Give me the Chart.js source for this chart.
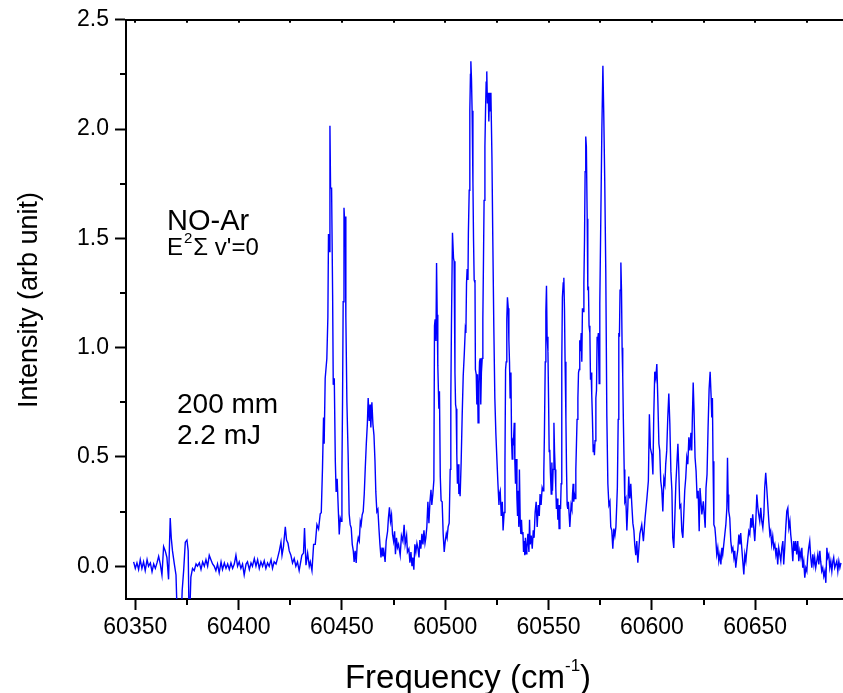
<!DOCTYPE html>
<html>
<head>
<meta charset="utf-8">
<script src="https://cdn.jsdelivr.net/npm/chart.js@4.4.1/dist/chart.umd.min.js"></script>
<style>
  html, body { margin: 0; padding: 0; background: #fff; }
  canvas { display: block; }
</style>
</head>
<body>
<canvas id="spectrum" width="843" height="693"></canvas>
<script>
// NO-Ar spectrum (cm-1, arb. unit)
const frequency = [
  60349.2, 60350.0, 60350.8, 60351.6, 60352.4, 60353.2, 60354.0, 60354.8, 60355.7, 60356.4,
  60357.3, 60358.1, 60358.9, 60359.7, 60360.5, 60361.3, 60362.1, 60362.9, 60363.7, 60364.5,
  60365.3, 60366.1, 60366.9, 60367.4, 60368.0, 60368.9, 60369.7, 60370.5, 60371.8, 60372.7,
  60373.4, 60374.2, 60375.0, 60375.6, 60376.1, 60376.9, 60377.7, 60378.5, 60379.4, 60380.1,
  60381.0, 60381.8, 60382.6, 60383.4, 60384.2, 60385.0, 60385.8, 60386.6, 60387.4, 60388.2,
  60389.0, 60389.8, 60390.6, 60391.5, 60392.2, 60393.1, 60393.9, 60394.7, 60395.5, 60396.3,
  60397.1, 60397.9, 60398.7, 60399.5, 60400.3, 60401.1, 60401.9, 60402.7, 60403.6, 60404.3,
  60405.2, 60406.0, 60406.7, 60407.6, 60408.4, 60409.2, 60410.0, 60410.8, 60411.6, 60412.4,
  60413.2, 60414.0, 60414.8, 60415.7, 60416.4, 60417.2, 60418.1, 60418.8, 60419.7, 60420.5,
  60421.0, 60421.7, 60422.6, 60423.2, 60423.9, 60424.5, 60425.3, 60426.1, 60426.9, 60427.7,
  60428.5, 60429.3, 60430.6, 60431.4, 60431.9, 60432.6, 60433.4, 60434.2, 60434.7, 60435.5,
  60436.3, 60437.1, 60437.9, 60438.7, 60439.5, 60440.0, 60440.6, 60441.1, 60441.4, 60441.9,
  60442.7, 60443.2, 60443.5, 60443.9, 60444.2, 60444.5, 60445.0, 60445.5, 60445.8, 60446.3,
  60446.8, 60447.2, 60447.7, 60448.2, 60448.7, 60449.2, 60449.7, 60450.0, 60450.3, 60450.6,
  60451.0, 60451.3, 60451.6, 60451.9, 60452.4, 60453.0, 60453.5, 60454.0, 60454.5, 60455.0,
  60455.5, 60455.9, 60456.4, 60456.9, 60457.4, 60457.9, 60458.4, 60458.9, 60459.3, 60459.8,
  60460.3, 60460.8, 60461.3, 60461.8, 60462.3, 60462.7, 60463.2, 60463.6, 60464.0, 60464.5,
  60465.0, 60465.5, 60466.0, 60466.4, 60466.9, 60467.4, 60467.9, 60468.4, 60468.9, 60469.4,
  60469.8, 60470.3, 60470.9, 60471.4, 60472.1, 60472.5, 60473.0, 60473.5, 60474.0, 60474.5,
  60475.0, 60475.5, 60475.9, 60476.4, 60476.9, 60477.4, 60478.2, 60478.8, 60479.5, 60480.1,
  60480.6, 60481.3, 60481.7, 60482.4, 60482.9, 60483.4, 60483.9, 60484.3, 60484.8, 60485.3,
  60485.8, 60486.3, 60486.8, 60487.3, 60487.7, 60488.2, 60488.7, 60489.2, 60489.7, 60490.2,
  60490.6, 60491.1, 60491.6, 60492.1, 60492.6, 60493.1, 60493.5, 60494.0, 60494.5, 60494.8,
  60495.1, 60495.5, 60495.8, 60496.1, 60496.4, 60496.9, 60497.2, 60497.6, 60498.0, 60498.5,
  60499.0, 60499.5, 60500.0, 60500.5, 60500.9, 60501.4, 60501.9, 60502.4, 60502.7, 60503.0,
  60503.5, 60504.0, 60504.3, 60504.7, 60505.0, 60505.3, 60505.6, 60505.9, 60506.3, 60506.6,
  60506.9, 60507.2, 60507.7, 60508.2, 60508.7, 60509.2, 60509.7, 60510.0, 60510.3, 60510.6,
  60511.0, 60511.2, 60511.6, 60511.9, 60512.2, 60512.4, 60512.7, 60513.0, 60513.4, 60513.7,
  60514.0, 60514.4, 60514.6, 60515.0, 60515.3, 60515.6, 60515.9, 60516.3, 60516.6, 60516.9,
  60517.2, 60517.5, 60517.9, 60518.2, 60518.5, 60518.8, 60519.2, 60519.5, 60519.8, 60520.1,
  60520.4, 60520.8, 60521.1, 60521.4, 60521.7, 60522.1, 60522.6, 60523.0, 60523.5, 60524.0,
  60524.5, 60525.0, 60525.5, 60526.0, 60526.2, 60526.6, 60527.1, 60527.6, 60528.0, 60528.5,
  60528.9, 60529.2, 60529.5, 60529.8, 60530.1, 60530.5, 60530.8, 60531.1, 60531.4, 60531.8,
  60532.1, 60532.4, 60532.7, 60533.0, 60533.4, 60533.7, 60534.0, 60534.3, 60534.7, 60535.0,
  60535.3, 60535.6, 60535.9, 60536.3, 60536.6, 60536.9, 60537.2, 60537.6, 60537.9, 60538.2,
  60538.5, 60538.8, 60539.2, 60539.5, 60540.0, 60540.5, 60540.8, 60541.1, 60541.6, 60542.1,
  60542.6, 60543.0, 60543.5, 60544.0, 60544.5, 60545.0, 60545.5, 60545.9, 60546.4, 60546.9,
  60547.4, 60547.7, 60548.0, 60548.4, 60548.7, 60549.0, 60549.3, 60549.7, 60550.0, 60550.3,
  60550.6, 60550.9, 60551.3, 60551.6, 60551.9, 60552.2, 60552.6, 60552.9, 60553.2, 60553.5,
  60553.8, 60554.2, 60554.5, 60554.8, 60555.1, 60555.5, 60555.8, 60556.1, 60556.4, 60556.7,
  60557.1, 60557.4, 60557.7, 60558.0, 60558.4, 60558.7, 60559.0, 60559.3, 60559.6, 60560.0,
  60560.3, 60560.6, 60560.9, 60561.3, 60561.6, 60561.9, 60562.2, 60562.5, 60562.9, 60563.2,
  60563.5, 60563.8, 60564.2, 60564.5, 60564.8, 60565.1, 60565.4, 60565.8, 60566.1, 60566.4,
  60566.7, 60567.1, 60567.4, 60567.7, 60568.0, 60568.3, 60568.7, 60569.0, 60569.3, 60569.6,
  60570.0, 60570.3, 60570.6, 60570.9, 60571.2, 60571.6, 60571.9, 60572.2, 60572.5, 60572.9,
  60573.2, 60573.5, 60573.8, 60574.1, 60574.5, 60574.8, 60575.8, 60576.3, 60576.7, 60577.2,
  60577.7, 60578.2, 60578.7, 60579.2, 60579.7, 60580.1, 60580.6, 60581.1, 60581.6, 60582.1,
  60582.6, 60583.0, 60583.3, 60583.7, 60584.0, 60584.3, 60584.6, 60585.0, 60585.3, 60585.6,
  60585.9, 60586.2, 60586.6, 60586.9, 60587.4, 60587.9, 60588.4, 60588.8, 60589.3, 60589.8,
  60590.3, 60590.8, 60591.3, 60591.7, 60592.2, 60592.7, 60593.2, 60593.7, 60594.2, 60595.1,
  60595.9, 60596.7, 60597.6, 60598.3, 60598.8, 60599.3, 60600.0, 60600.5, 60600.9, 60601.4,
  60601.9, 60602.4, 60602.9, 60603.4, 60603.8, 60604.3, 60604.8, 60605.3, 60605.8, 60606.3,
  60606.7, 60607.2, 60607.7, 60608.2, 60608.7, 60609.2, 60609.7, 60610.1, 60610.6, 60611.1,
  60611.6, 60612.1, 60612.6, 60613.0, 60613.5, 60614.0, 60614.5, 60615.0, 60615.5, 60615.9,
  60616.4, 60616.9, 60617.4, 60617.9, 60618.4, 60618.9, 60619.3, 60619.6, 60620.0, 60620.4,
  60620.9, 60621.4, 60621.9, 60622.4, 60622.9, 60623.3, 60624.2, 60624.9, 60625.8, 60626.2,
  60626.7, 60627.2, 60627.7, 60628.2, 60628.7, 60629.0, 60629.3, 60629.6, 60630.0, 60630.5,
  60630.9, 60631.4, 60631.9, 60632.4, 60632.9, 60633.4, 60633.9, 60634.3, 60634.8, 60635.3,
  60635.8, 60636.3, 60636.6, 60636.9, 60637.2, 60637.7, 60638.2, 60638.7, 60639.2, 60639.7,
  60640.1, 60640.6, 60641.1, 60641.6, 60642.1, 60642.6, 60643.0, 60643.5, 60644.0, 60644.5,
  60645.0, 60645.5, 60645.9, 60646.4, 60646.9, 60647.4, 60647.9, 60648.4, 60648.8, 60649.3,
  60649.8, 60650.3, 60650.8, 60651.3, 60651.7, 60652.2, 60652.7, 60653.2, 60653.7, 60654.2,
  60654.6, 60655.1, 60655.6, 60656.1, 60656.6, 60657.1, 60657.5, 60658.0, 60658.5, 60659.0,
  60659.5, 60660.0, 60660.4, 60660.9, 60661.4, 60661.9, 60662.4, 60662.9, 60663.4, 60663.8,
  60664.3, 60664.8, 60665.3, 60665.8, 60666.3, 60666.8, 60667.2, 60667.7, 60668.2, 60668.7,
  60669.2, 60669.6, 60670.1, 60670.6, 60671.1, 60671.6, 60672.1, 60672.6, 60673.0, 60673.5,
  60674.0, 60674.5, 60675.0, 60675.4, 60675.9, 60676.4, 60676.9, 60677.4, 60677.9, 60678.4,
  60678.8, 60679.3, 60679.8, 60680.3, 60680.8, 60681.3, 60681.7, 60682.2, 60682.7, 60683.2,
  60683.7, 60684.2, 60684.7, 60685.1, 60685.6, 60686.1, 60686.6, 60687.1, 60687.6, 60688.0,
  60688.5, 60689.0, 60689.5, 60690.0, 60690.5, 60691.0, 60691.5
];

const intensity = [
  0.02, -0.01, 0.015, -0.015, 0.03, -0.01, 0.02, -0.02, 0.03, 0,
  0.015, -0.025, 0.01, -0.01, 0.015, 0.045, 0.01, -0.04, 0.09, 0.07,
  0.04, -0.06, 0.22, 0.13, 0.07, 0.01, -0.04, -0.3, -0.35, -0.11,
  -0.02, 0.11, 0.12, 0.07, -0.3, -0.05, -0.01, -0.02, 0.01, 0,
  0.015, -0.015, 0.02, 0, 0.03, 0, 0.05, 0.03, 0.01, 0,
  -0.02, 0.01, -0.03, 0.02, -0.015, 0.015, -0.01, 0.01, -0.015, 0.015,
  -0.01, 0.01, 0.05, 0, 0.02, -0.01, 0.01, -0.04, 0.01, 0.02,
  -0.015, 0.015, 0, 0.035, 0, 0.03, -0.01, 0.02, 0, 0.025,
  -0.01, 0.015, 0, 0.03, -0.01, 0.02, 0.01, 0.035, 0.07, 0.11,
  0.05, 0.09, 0.18, 0.12, 0.105, 0.07, 0.05, 0.015, 0.035, 0,
  0.02, -0.02, 0.05, 0.06, 0.175, 0.005, 0.06, 0, 0.02, -0.02,
  0.10, 0.10, 0.19, 0.17, 0.24, 0.245, 0.45, 0.68, 0.56, 0.86,
  0.95, 1.14, 1.52, 1.44, 2.015, 1.73, 1.73, 1.24, 0.83, 0.86,
  0.48, 0.34, 0.40, 0.27, 0.145, 0.22, 0.205, 0.435, 0.755, 1.21,
  1.64, 1.58, 1.60, 1.14, 0.755, 0.51, 0.24, 0.19, 0.175, 0.10,
  0.07, 0.02, 0.07, 0.015, 0.10, 0.13, 0.115, 0.205, 0.19, 0.235,
  0.25, 0.33, 0.45, 0.56, 0.65, 0.77, 0.665, 0.74, 0.635, 0.75,
  0.65, 0.60, 0.48, 0.34, 0.25, 0.26, 0.175, 0.10, 0.04, 0.085,
  0.045, 0.07, 0.02, 0.115, 0.16, 0.22, 0.27, 0.205, 0.235, 0.145,
  0.115, 0.16, 0.055, 0.13, 0.085, 0.10, 0.05, 0.14, 0.115, 0.19,
  0.10, 0.14, 0.065, 0.08, 0.016, 0.065, 0, 0.04, -0.016, 0.10,
  0.065, 0.105, 0.08, 0.04, 0.12, 0.08, 0.148, 0.10, 0.164, 0.105,
  0.13, 0.18, 0.295, 0.197, 0.295, 0.35, 0.28, 0.33, 0.394, 1.10,
  1.13, 1.03, 1.387, 1.15, 0.92, 0.72, 0.80, 0.41, 0.30, 0.295,
  0.148, 0.065, 0.115, 0.148, 0.13, 0.18, 0.197, 0.443, 0.77, 1.10,
  1.526, 1.41, 1.395, 0.886, 0.74, 0.72, 0.51, 0.377, 0.467, 0.33,
  0.377, 0.32, 0.475, 0.69, 0.87, 0.968, 1.083, 1.067, 1.296, 1.36,
  1.31, 1.526, 1.72, 2.084, 2.25, 2.31, 2.23, 2.084, 1.756, 1.49,
  1.31, 1.296, 0.90, 0.878, 0.74, 0.878, 0.656, 0.836, 0.935, 0.951,
  0.74, 0.886, 0.951, 1.13, 1.395, 1.674, 1.92, 2.084, 2.215, 2.264,
  2.117, 2.166, 2.035, 2.166, 2.084, 2.166, 1.87, 1.51, 1.10, 0.77,
  0.607, 0.49, 0.377, 0.28, 0.33, 0.345, 0.23, 0.295, 0.164, 0.246,
  0.475, 0.90, 0.935, 1.13, 1.23, 1.18, 1.034, 0.935, 0.77, 0.886,
  0.574, 0.49, 0.574, 0.566, 0.656, 0.475, 0.377, 0.49, 0.31, 0.23,
  0.345, 0.18, 0.443, 0.197, 0.148, 0.213, 0.148, 0.156, 0.065, 0.115,
  0.05, 0.13, 0.057, 0.08, 0.148, 0.065, 0.213, 0.10, 0.14, 0.08,
  0.164, 0.13, 0.246, 0.295, 0.18, 0.28, 0.23, 0.33, 0.28, 0.36,
  0.345, 0.426, 0.607, 0.935, 1.165, 1.283, 1.05, 0.984, 0.77, 0.525,
  0.533, 0.426, 0.33, 0.475, 0.345, 0.443, 0.656, 0.525, 0.443, 0.36,
  0.262, 0.31, 0.213, 0.28, 0.172, 0.28, 0.262, 0.377, 0.935, 1.23,
  1.296, 1.32, 1.18, 0.935, 0.672, 0.443, 0.28, 0.262, 0.295, 0.23,
  0.18, 0.23, 0.28, 0.262, 0.33, 0.377, 0.295, 0.33, 0.31, 0.443,
  0.558, 0.672, 0.77, 0.886, 0.90, 1.034, 0.984, 1.067, 0.935, 1.18,
  1.165, 1.296, 1.493, 1.805, 1.966, 1.92, 1.59, 1.263, 1.28, 1.10,
  1.067, 0.853, 0.886, 0.787, 0.689, 0.525, 0.558, 0.508, 0.574, 0.77,
  0.804, 1.05, 1.034, 1.067, 0.836, 1.198, 2.0, 2.29, 2.08, 1.756,
  1.345, 0.689, 0.377, 0.28, 0.295, 0.18, 0.164, 0.08, 0.172, 0.14,
  0.18, 0.28, 0.36, 0.672, 1.067, 1.05, 1.263, 1.39, 1.263, 1.0,
  0.87, 0.672, 0.443, 0.295, 0.31, 0.164, 0.28, 0.41, 0.31, 0.377,
  0.28, 0.197, 0.164, 0.10, 0.05, 0.115, 0.016, 0.08, 0.148, 0.19,
  0.115, 0.22, 0.31, 0.39, 0.695, 0.54, 0.51, 0.42, 0.68, 0.89,
  0.86, 0.925, 0.757, 0.56, 0.53, 0.39, 0.35, 0.25, 0.40, 0.375,
  0.467, 0.53, 0.68, 0.79, 0.65, 0.435, 0.345, 0.13, 0.084, 0.22,
  0.375, 0.467, 0.56, 0.45, 0.27, 0.28, 0.16, 0.13, 0.25, 0.345,
  0.405, 0.497, 0.467, 0.59, 0.53, 0.61, 0.53, 0.68, 0.84, 0.71,
  0.497, 0.435, 0.31, 0.345, 0.16, 0.358, 0.237, 0.297, 0.176, 0.358,
  0.42, 0.633, 0.809, 0.89, 0.77, 0.68, 0.77, 0.48, 0.19, 0.176,
  0.13, 0.054, 0.084, 0.023, 0.054, 0.008, 0.084, 0.054, 0.1, 0.145,
  0.19, 0.267, 0.496, 0.328, 0.252, 0.22, 0.115, 0.07, 0.084, 0.04,
  0.07, -0.007, 0.04, 0.076, 0.145, 0.1, 0.152, 0.084, 0.023, -0.038,
  0.054, 0.023, 0.07, 0.115, 0.16, 0.145, 0.22, 0.176, 0.237, 0.176,
  0.115, 0.206, 0.328, 0.267, 0.237, 0.206, 0.267, 0.206, 0.176, 0.237,
  0.358, 0.427, 0.358, 0.282, 0.206, 0.145, 0.16, 0.1, 0.137, 0.084,
  0.1, 0.054, 0.084, 0.008, 0.084, 0.054, 0.023, 0.084, 0.115, 0.008,
  0.084, 0.176, 0.252, 0.267, 0.176, 0.206, 0.145, 0.1, 0.023, 0.115,
  0.07, 0.115, 0.054, 0.115, 0.023, 0.07, 0.04, 0.084, -0.007, 0.023,
  -0.053, -0.007, -0.023, 0.04, 0.084, 0.115, 0.04, -0.007, 0.054, 0.008,
  0.04, -0.007, 0.023, 0.054, 0.008, 0.07, 0.023, -0.023, -0.007, -0.046,
  -0.023, -0.076, 0.084, 0.04, 0.054, -0.007, 0.023, -0.023, 0.023, 0.04,
  -0.007, 0.008, 0.023, -0.023, 0.023, -0.007, 0.015
];

const xTickValues = [60350, 60375, 60400, 60425, 60450, 60475, 60500, 60525, 60550, 60575, 60600, 60625, 60650, 60675];
const yTickValues = [0, 0.25, 0.5, 0.75, 1, 1.25, 1.5, 1.75, 2, 2.25, 2.5];
const xRange = [60345.5, 60692.5];
const yRange = [-0.15, 2.5];

const FONT = '"Liberation Sans", Arial, Helvetica, sans-serif';

const isMajorX = v => Math.abs(v % 50) < 1e-6;
const isMajorY = v => Math.abs(v * 2 - Math.round(v * 2)) < 1e-6;

const points = frequency.map((f, i) => ({ x: f, y: intensity[i] }));

// minor ticks, top ticks, axis titles and the text notes
const axisDecor = {
  id: 'axisDecor',
  afterDraw(chart) {
    const { ctx, chartArea, scales } = chart;
    ctx.save();
    ctx.strokeStyle = '#000';
    ctx.lineWidth = 2;
    ctx.beginPath();
    scales.x.ticks.forEach(t => {
      const px = Math.round(scales.x.getPixelForValue(t.value));
      if (!isMajorX(t.value)) {
        ctx.moveTo(px, chartArea.bottom);
        ctx.lineTo(px, chartArea.bottom + 6);
      }
      ctx.moveTo(px, chartArea.top);
      ctx.lineTo(px, chartArea.top + 3);
    });
    scales.y.ticks.forEach(t => {
      if (isMajorY(t.value)) return;
      const py = Math.round(scales.y.getPixelForValue(t.value));
      ctx.moveTo(chartArea.left, py);
      ctx.lineTo(chartArea.left - 6, py);
    });
    ctx.stroke();

    ctx.fillStyle = '#000';
    ctx.textBaseline = 'alphabetic';
    ctx.textAlign = 'left';

    ctx.font = '29px ' + FONT;
    ctx.fillText('NO-Ar', 167, 230);

    // E^2 Σ v'=0
    let x = 167;
    ctx.font = '24px ' + FONT;
    ctx.fillText('E', x, 255);
    x += ctx.measureText('E').width + 1;
    ctx.font = '15px ' + FONT;
    ctx.fillText('2', x, 243);
    x += ctx.measureText('2').width + 1;
    ctx.font = '24px ' + FONT;
    ctx.fillText("\u03A3 v'=0", x, 255);

    ctx.font = '28px ' + FONT;
    ctx.fillText('200 mm', 177, 413);
    ctx.fillText('2.2 mJ', 177, 444);

    // y axis title
    ctx.save();
    ctx.translate(37, 300);
    ctx.rotate(-Math.PI / 2);
    ctx.font = '27px ' + FONT;
    ctx.textAlign = 'center';
    ctx.fillText('Intensity (arb unit)', 0, 0);
    ctx.restore();

    // x axis title with superscript
    const main = 'Frequency (cm';
    ctx.font = '33px ' + FONT;
    const wMain = ctx.measureText(main).width;
    const wClose = ctx.measureText(')').width;
    ctx.font = '17px ' + FONT;
    const wSup = ctx.measureText('-1').width;
    let tx = 468 - (wMain + wSup + wClose) / 2;
    ctx.font = '33px ' + FONT;
    ctx.fillText(main, tx, 688);
    tx += wMain;
    ctx.font = '17px ' + FONT;
    ctx.fillText('-1', tx, 671);
    tx += wSup;
    ctx.font = '33px ' + FONT;
    ctx.fillText(')', tx, 688);
    ctx.restore();
  }
};

new Chart(document.getElementById('spectrum'), {
  type: 'line',
  data: {
    datasets: [{
      data: points,
      borderColor: '#0000ff',
      borderWidth: 1.4,
      pointRadius: 0,
      tension: 0,
      fill: false
    }]
  },
  options: {
    responsive: false,
    animation: false,
    events: [],
    layout: { padding: { top: 19, right: 0, bottom: 0, left: 0 } },
    plugins: { legend: { display: false }, tooltip: { enabled: false } },
    scales: {
      x: {
        type: 'linear',
        min: xRange[0],
        max: xRange[1],
        afterBuildTicks: s => { s.ticks = xTickValues.map(v => ({ value: v })); },
        afterFit: s => { s.height = 94; },
        ticks: {
          autoSkip: false,
          maxRotation: 0,
          padding: 4,
          color: '#000',
          font: { family: FONT, size: 23 },
          callback: v => (isMajorX(v) ? String(v) : '')
        },
        grid: {
          drawOnChartArea: false,
          tickLength: 11,
          tickWidth: 2,
          tickColor: c => (c.tick && isMajorX(c.tick.value) ? '#000' : 'rgba(0,0,0,0)')
        },
        border: { color: '#000', width: 2 }
      },
      xTop: {
        type: 'linear',
        position: 'top',
        min: xRange[0],
        max: xRange[1],
        afterFit: s => { s.height = 0; },
        ticks: { display: false },
        grid: { display: false },
        border: { color: '#000', width: 2 }
      },
      y: {
        type: 'linear',
        min: yRange[0],
        max: yRange[1],
        afterBuildTicks: s => { s.ticks = yTickValues.map(v => ({ value: v })); },
        afterFit: s => { s.width = 126; },
        ticks: {
          autoSkip: false,
          padding: 6,
          color: '#000',
          font: { family: FONT, size: 23 },
          callback: v => (isMajorY(v) ? v.toFixed(1) : '')
        },
        grid: {
          drawOnChartArea: false,
          tickLength: 11,
          tickWidth: 2,
          tickColor: c => (c.tick && isMajorY(c.tick.value) ? '#000' : 'rgba(0,0,0,0)')
        },
        border: { color: '#000', width: 2 }
      }
    }
  },
  plugins: [axisDecor]
});
</script>
</body>
</html>
